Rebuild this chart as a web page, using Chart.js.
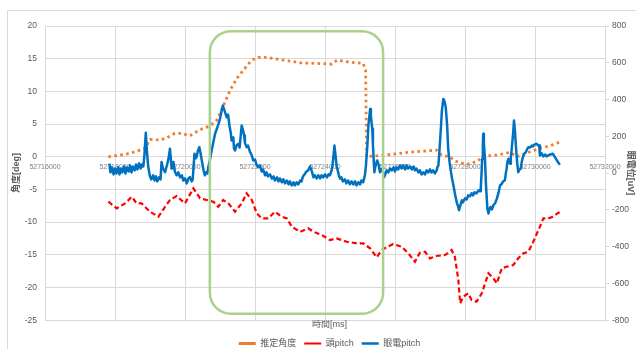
<!DOCTYPE html>
<html lang="ja">
<head>
<meta charset="utf-8">
<title>推定角度 / 頭pitch / 眼電pitch</title>
<script src="https://cdn.jsdelivr.net/npm/chart.js@4.4.1/dist/chart.umd.min.js"></script>
<style>
html,body{margin:0;padding:0;background:#ffffff;}
#chartBox{width:636px;height:349px;}
</style>
</head>
<body>
<div id="chartBox"><canvas id="angleChart" width="636" height="349"></canvas></div>
<script>

/*
=================================
DATA
=================================
*/

const seriesNames = ["推定角度", "頭pitch", "眼電pitch"];

const xTicks = [52716000, 52718000, 52720000, 52722000, 52724000, 52726000, 52728000, 52730000, 52732000];
const leftTicks = [-25, -20, -15, -10, -5, 0, 5, 10, 15, 20];
const rightTicks = [-800, -600, -400, -200, 0, 200, 400, 600, 800];

// 推定角度 [deg]
const angleTime = [
    52717810, 52718140, 52718430, 52718710, 52718860, 52719000, 52719290, 52719480, 52719710, 52719910,
    52720140, 52720330, 52720520, 52720710, 52720910, 52721090, 52721290, 52721480, 52721670, 52721910,
    52722090, 52722330, 52722810, 52723290, 52723760, 52724190, 52724350, 52724620, 52725090, 52725160,
    52725190, 52725480, 52725910, 52726380, 52726860, 52727190, 52727330, 52727570, 52727710, 52728050,
    52728380, 52728430, 52728570, 52728910, 52729290, 52729480, 52729670, 52729860, 52730140, 52730430,
    52730690
];
const angleDeg = [
    0.0, 0.26, 0.52, 1.02, 1.28, 2.66, 2.55, 2.91, 3.58, 3.58,
    3.21, 3.82, 4.34, 4.69, 5.61, 7.68, 10.2, 11.99, 13.26, 14.79,
    15.2, 15.2, 14.79, 14.37, 14.28, 14.17, 14.79, 14.53, 14.28, 13.26,
    0.0, 0.15, 0.37, 0.67, 0.87, 1.02, 0.26, 0.0, -0.66, -1.16,
    -0.66, -0.24, 0.11, 0.26, 0.67, 0.0, 0.37, 0.76, 1.28, 1.68,
    2.2
];

// 頭pitch [deg]
const headTime = [
    52717810, 52718050, 52718290, 52718480, 52718620, 52718760, 52719000, 52719240, 52719430, 52719570,
    52719760, 52720000, 52720240, 52720430, 52720620, 52720810, 52720950, 52721090, 52721240, 52721430,
    52721620, 52721760, 52721910, 52722050, 52722190, 52722380, 52722570, 52722760, 52722910, 52723050,
    52723290, 52723520, 52723670, 52723910, 52724140, 52724330, 52724620, 52724910, 52725090, 52725290,
    52725480, 52725620, 52725760, 52725950, 52726190, 52726380, 52726570, 52726710, 52726860, 52727000,
    52727190, 52727430, 52727620, 52727710, 52727810, 52727860, 52727950, 52728090, 52728190, 52728330,
    52728480, 52728670, 52728810, 52728910, 52729050, 52729190, 52729380, 52729520, 52729670, 52729810,
    52729950, 52730140, 52730240, 52730380, 52730520, 52730670, 52730760
];
const headDeg = [
    -6.88, -7.89, -7.13, -6.12, -7.13, -7.13, -8.41, -9.17, -7.65, -6.62,
    -6.01, -7.13, -4.83, -6.36, -6.62, -6.88, -7.65, -6.62, -7.13, -8.41,
    -7.13, -5.6, -6.62, -8.65, -9.42, -9.42, -8.41, -9.17, -9.42, -10.7,
    -11.47, -10.95, -11.47, -11.97, -12.74, -12.48, -13.0, -13.24, -13.24, -14.01,
    -15.38, -14.27, -13.85, -13.35, -13.76, -14.77, -16.06, -14.68, -14.53, -15.54,
    -15.18, -15.03, -14.27, -15.29, -18.85, -22.42, -21.41, -20.89, -21.91, -22.17,
    -20.89, -17.83, -18.59, -19.36, -17.06, -16.82, -16.56, -15.54, -14.77, -14.53,
    -13.0, -10.7, -9.42, -9.42, -9.17, -8.56, -8.65
];

// 眼電pitch [uV]
const eogTime = [
    52717840, 52717870, 52717910, 52717960, 52718000, 52718040, 52718090, 52718130, 52718170, 52718210,
    52718260, 52718300, 52718340, 52718390, 52718430, 52718470, 52718510, 52718560, 52718600, 52718640,
    52718690, 52718730, 52718770, 52718810, 52718840, 52718880, 52718910, 52718950, 52719000, 52719040,
    52719090, 52719130, 52719170, 52719210, 52719260, 52719300, 52719330, 52719370, 52719430, 52719490,
    52719530, 52719570, 52719620, 52719670, 52719710, 52719760, 52719810, 52719860, 52719910, 52719950,
    52720000, 52720050, 52720100, 52720140, 52720190, 52720220, 52720270, 52720300, 52720330, 52720370,
    52720410, 52720440, 52720480, 52720530, 52720570, 52720600, 52720640, 52720670, 52720710, 52720760,
    52720810, 52720860, 52720910, 52720960, 52721000, 52721040, 52721080, 52721130, 52721190, 52721230,
    52721270, 52721310, 52721330, 52721380, 52721400, 52721430, 52721470, 52721520, 52721560, 52721620,
    52721660, 52721690, 52721710, 52721760, 52721800, 52721860, 52721900, 52721950, 52722000, 52722040,
    52722090, 52722140, 52722190, 52722230, 52722290, 52722330, 52722370, 52722430, 52722480, 52722530,
    52722570, 52722630, 52722670, 52722710, 52722770, 52722810, 52722860, 52722910, 52722960, 52723000,
    52723050, 52723100, 52723140, 52723190, 52723240, 52723290, 52723330, 52723370, 52723430, 52723470,
    52723520, 52723570, 52723600, 52723640, 52723670, 52723710, 52723760, 52723810, 52723860, 52723900,
    52723950, 52724000, 52724060, 52724100, 52724140, 52724190, 52724220, 52724270, 52724300, 52724330,
    52724390, 52724430, 52724470, 52724510, 52724570, 52724610, 52724660, 52724710, 52724760, 52724810,
    52724860, 52724900, 52724950, 52725000, 52725040, 52725090, 52725140, 52725170, 52725210, 52725240,
    52725290, 52725310, 52725350, 52725370, 52725410, 52725440, 52725490, 52725530, 52725570, 52725620,
    52725660, 52725690, 52725730, 52725760, 52725810, 52725860, 52725910, 52725960, 52726000, 52726040,
    52726090, 52726140, 52726190, 52726230, 52726290, 52726330, 52726370, 52726430, 52726480, 52726530,
    52726570, 52726610, 52726670, 52726710, 52726760, 52726810, 52726860, 52726900, 52726950, 52727000,
    52727040, 52727090, 52727140, 52727190, 52727210, 52727240, 52727270, 52727310, 52727340, 52727380,
    52727410, 52727450, 52727490, 52727520, 52727560, 52727600, 52727630, 52727670, 52727710, 52727760,
    52727800, 52727830, 52727860, 52727910, 52727940, 52728000, 52728050, 52728090, 52728140, 52728190,
    52728230, 52728270, 52728330, 52728390, 52728430, 52728450, 52728470, 52728490, 52728510, 52728520,
    52728540, 52728570, 52728600, 52728640, 52728670, 52728700, 52728730, 52728770, 52728810, 52728860,
    52728910, 52728960, 52729000, 52729040, 52729090, 52729140, 52729170, 52729190, 52729210, 52729240,
    52729260, 52729290, 52729310, 52729330, 52729370, 52729400, 52729430, 52729460, 52729490, 52729520,
    52729560, 52729590, 52729630, 52729670, 52729700, 52729740, 52729770, 52729810, 52729860, 52729910,
    52729940, 52729990, 52730050, 52730090, 52730120, 52730140, 52730190, 52730240, 52730290, 52730330,
    52730380, 52730430, 52730510, 52730540, 52730570, 52730610, 52730670, 52730710
];
const eogUv = [
    51, 4, 31, -7, 25, -2, 31, -7, 25, 4,
    36, -2, 31, 9, 42, 4, 36, 15, 47, 20,
    53, 25, 47, 36, 96, 219, 123, 33, -18, -34,
    -12, -40, -18, -45, -23, -34, 60, 25, 5, 47,
    80, 132, 24, 60, 9, -12, 4, -23, -12, -40,
    -29, -56, -29, -22, -45, -34, 105, 80, 87, 123,
    141, 112, 69, 15, -12, 4, -2, 36, 69, 123,
    168, 215, 241, 269, 295, 334, 367, 340, 304, 318,
    259, 215, 177, 195, 134, 123, 150, 159, 139, 259,
    231, 204, 166, 141, 150, 114, 101, 69, 74, 47,
    33, 42, 9, 20, -12, 4, -18, -7, -30, -18,
    -40, -23, -45, -29, -50, -34, -56, -40, -61, -45,
    -67, -50, -67, -50, -61, -40, -45, -18, -3, 9,
    15, 36, 24, -2, -23, -12, -29, -12, -29, -12,
    -23, -7, -23, -7, -12, 15, 51, 150, 96, 42,
    -7, -30, -23, -45, -34, -56, -40, -61, -45, -61,
    -45, -67, -50, -61, -40, -50, -12, 42, 150, 259,
    349, 313, 241, 150, 5, 36, 69, 47, 5, 24,
    4, -22, -2, 15, 4, 25, 15, 31, 9, 31,
    20, 42, 25, 42, 20, 42, 25, 36, 20, 36,
    15, 25, 4, 15, -7, 4, -7, 15, 4, 20,
    4, 15, -2, 15, 31, 42, 123, 241, 340, 403,
    394, 358, 259, 132, 58, 5, -29, -67, -110, -157,
    -180, -202, -180, -148, -159, -137, -143, -121, -126, -110,
    -121, -105, -110, -94, -99, -83, -12, 78, 150, 214,
    161, 78, -67, -193, -220, -197, -184, -197, -175, -164,
    -139, -105, -67, -61, -45, -40, 4, 24, 58, 78,
    58, 51, 91, 123, 204, 286, 221, 132, 58, 5,
    20, 24, 69, 96, 107, 114, 128, 141, 139, 150,
    145, 156, 159, 150, 150, 96, 107, 91, 101, 91,
    96, 101, 105, 96, 87, 74, 56, 46
];

// green frame drawn over the chart (time range, deg range)
const markTime = [52720710, 52725660];
const markDeg = [19.2, -24.0];

/*
=================================
HELPERS
=================================
*/

function toPoints(xs, ys){

    return xs.map((x, i) => ({ x: x, y: ys[i] }));
}

const fontFamily =
    "'Liberation Sans','Noto Sans CJK JP',sans-serif";

Chart.defaults.font.family = fontFamily;
Chart.defaults.color = "#595959";

/*
=================================
PLUGINS
=================================
*/

const framePlugin = {

    id: "frame",

    beforeDraw(chart){

        const ctx = chart.ctx;

        ctx.save();
        ctx.fillStyle = "#ffffff";
        ctx.fillRect(0, 0, chart.width, chart.height);
        ctx.strokeStyle = "#d9d9d9";
        ctx.lineWidth = 1;
        ctx.strokeRect(7.5, 10.5, chart.width + 20, chart.height + 20);
        ctx.restore();
    }
};

// legend sits a little right of the canvas centre
const legendShift = {

    id: "legendShift",

    afterLayout(chart){

        if(chart.legend){

            chart.legend.left += 6;
            chart.legend.right += 6;
        }
    }
};

const markPlugin = {

    id: "greenMark",

    afterDatasetsDraw(chart){

        const xs = chart.scales.x;
        const ys = chart.scales.y;

        const x1 = xs.getPixelForValue(markTime[0]);
        const x2 = xs.getPixelForValue(markTime[1]);
        const y1 = ys.getPixelForValue(markDeg[0]);
        const y2 = ys.getPixelForValue(markDeg[1]);

        const ctx = chart.ctx;

        ctx.save();
        ctx.strokeStyle = "#a9d18e";
        ctx.lineWidth = 2.5;
        ctx.beginPath();
        ctx.roundRect(x1, y1, x2 - x1, y2 - y1, 21);
        ctx.stroke();
        ctx.restore();
    }
};

/*
=================================
CHART
=================================
*/

const canvas =
    document.getElementById(
        "angleChart"
    );

new Chart(canvas, {

    type: "line",

    data: {

        datasets: [
            {
                label: seriesNames[0],
                data: toPoints(angleTime, angleDeg),
                yAxisID: "y",
                borderColor: "#ed7d31",
                backgroundColor: "#ed7d31",
                borderWidth: 2.8,
                borderDash: [2.6, 3.4],
                pointRadius: 0,
                pointStyle: "line",
                tension: 0,
                order: 3
            },
            {
                label: seriesNames[1],
                data: toPoints(headTime, headDeg),
                yAxisID: "y",
                borderColor: "#ff0000",
                backgroundColor: "#ff0000",
                borderWidth: 2.2,
                borderDash: [5, 3],
                pointRadius: 0,
                pointStyle: "line",
                tension: 0,
                order: 2
            },
            {
                label: seriesNames[2],
                data: toPoints(eogTime, eogUv),
                yAxisID: "y1",
                borderColor: "#0070c0",
                backgroundColor: "#0070c0",
                borderWidth: 2.5,
                borderJoinStyle: "round",
                pointRadius: 0,
                pointStyle: "line",
                tension: 0,
                order: 1
            }
        ]
    },

    options: {

        responsive: false,
        animation: false,
        devicePixelRatio: 1,

        layout: {
            padding: { left: 11, right: 0, top: 26, bottom: -9 }
        },

        scales: {

            x: {
                type: "linear",
                position: { y: 0 },
                min: xTicks[0],
                max: xTicks[xTicks.length - 1],
                afterBuildTicks: s => {
                    s.ticks = xTicks.map(v => ({ value: v }));
                },
                grid: {
                    color: "#d9d9d9",
                    drawTicks: false
                },
                border: { color: "#d9d9d9" },
                ticks: {
                    autoSkip: false,
                    maxRotation: 0,
                    padding: 6,
                    color: "#7f7f7f",
                    font: { size: 7 },
                    callback: v => String(v)
                }
            },

            y: {
                position: "left",
                min: leftTicks[0],
                max: leftTicks[leftTicks.length - 1],
                afterBuildTicks: s => {
                    s.ticks = leftTicks.map(v => ({ value: v }));
                },
                afterFit: s => { s.width = 34; },
                grid: {
                    color: "#d9d9d9",
                    drawTicks: false
                },
                border: { display: false },
                ticks: {
                    padding: 8,
                    font: { size: 8.5 }
                },
                title: {
                    display: true,
                    text: "角度[deg]",
                    padding: { top: 0, bottom: 0 },
                    font: { size: 9, weight: "bold" }
                }
            },

            y1: {
                position: "right",
                min: rightTicks[0],
                max: rightTicks[rightTicks.length - 1],
                afterBuildTicks: s => {
                    s.ticks = rightTicks.map(v => ({ value: v }));
                },
                afterFit: s => { s.width = 31; },
                grid: {
                    drawOnChartArea: false,
                    color: "#d9d9d9",
                    tickLength: 4
                },
                border: { color: "#d9d9d9" },
                ticks: {
                    padding: 3,
                    font: { size: 8.5 }
                },
                title: {
                    display: true,
                    text: "眼電位[uV]",
                    padding: { top: 0, bottom: 0 },
                    font: { size: 9, weight: "bold" }
                }
            }
        },

        plugins: {

            legend: {
                position: "bottom",
                title: {
                    display: true,
                    text: "時間[ms]",
                    padding: { top: 0, bottom: 0 },
                    font: { size: 9 }
                },
                labels: {
                    usePointStyle: true,
                    pointStyleWidth: 17,
                    padding: 8,
                    color: "#595959",
                    font: { size: 9 },
                    sort: (a, b) => a.datasetIndex - b.datasetIndex
                }
            },

            tooltip: { enabled: false }
        }
    },

    plugins: [framePlugin, legendShift, markPlugin]
});

</script>
</body>
</html>
